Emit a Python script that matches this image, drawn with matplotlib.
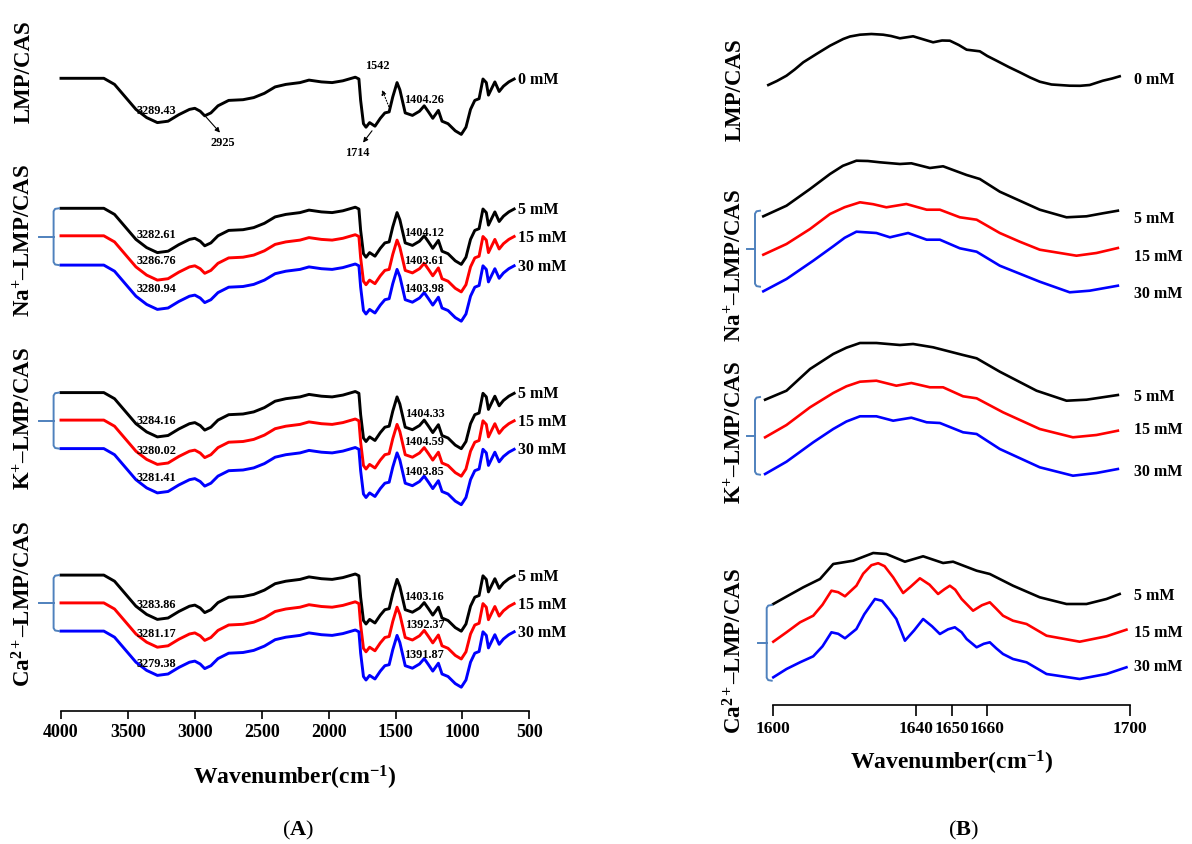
import matplotlib
matplotlib.use("Agg")
import matplotlib.pyplot as plt
from matplotlib.lines import Line2D

plt.rcParams.update({
    "font.family": "Liberation Serif",
    "mathtext.fontset": "custom",
    "mathtext.rm": "Liberation Serif",
    "mathtext.bf": "Liberation Serif:bold",
    "mathtext.it": "Liberation Serif:italic",
    "mathtext.default": "bf",
})

W, H = 1192, 845
BRACE_COLOR = "#4f81bd"

# ---------------- (A) full-range FTIR spectra, 4000-600 cm-1 ----------------
wn_a = [4000, 3680, 3600, 3520, 3440, 3360, 3280, 3200, 3120, 3040, 3000, 2960,
        2926, 2880, 2827, 2747, 2640, 2560, 2480, 2400, 2320, 2214, 2147, 2054,
        1974, 1894, 1801, 1774, 1761, 1740, 1721, 1694, 1654, 1614, 1580, 1548,
        1521, 1489, 1468, 1428, 1374, 1321, 1286, 1254, 1222, 1180, 1153, 1108,
        1054, 1009, 974, 940, 908, 876, 847, 822, 806, 780, 758, 726, 694, 654, 614]
trans_a = [0, 0, -6.1, -18.6, -31.1, -39.3, -44.3, -42.9, -36.4, -31.1, -30.0, -32.9,
           -37.5, -34.6, -27.5, -22.1, -21.4, -19.3, -15.0, -8.6, -6.1, -4.3, -1.8, -3.6,
           -4.3, -2.5, 1.1, -0.7, -22.1, -45.4, -48.9, -44.3, -47.9, -40.0, -34.6, -33.6,
           -18.6, -4.3, -11.4, -34.6, -37.1, -32.9, -27.5, -33.6, -40.0, -32.1, -42.9, -45.4,
           -52.5, -56.1, -48.9, -31.1, -22.1, -20.4, -0.7, -4.3, -16.8, -9.6, -3.6, -13.2,
           -7.9, -3.6, -0.7]

conc_a = ["0 mM", "5 mM", "15 mM", "30 mM", "5 mM", "15 mM", "30 mM",
          "5 mM", "15 mM", "30 mM"]
colors_a = ["black", "black", "red", "blue", "black", "red", "blue",
            "black", "red", "blue"]
oh_peak_a = ["3289.43", "3282.61", "3286.76", "3280.94", "3284.16", "3280.02",
             "3281.41", "3283.86", "3281.17", "3279.38"]
coo_peak_a = ["1404.26", "1404.12", "1403.61", "1403.98", "1404.33", "1404.59",
              "1403.85", "1403.16", "1392.37", "1391.87"]

# vertical stacking of the traces and of their peak labels (axis units)
offsets_a = [632.7, 502.7, 475.2, 445.9, 318.4, 290.9, 262.4, 135.9, 108.1, 79.9]
oh_label_dy = [-32, -25.7, -24.3, -22.5, -27.5, -29.6, -28.6, -28.5, -30.4, -31.5]
coo_label_dy = [-20.3, -23.9, -23.9, -23.2, -20.3, -21.4, -22.5, -21.4, -21.1, -22.5]

# ---------------- (B) amide I region, 1600-1700 cm-1 ----------------
conc_b = ["0 mM", "5 mM", "15 mM", "30 mM", "5 mM", "15 mM", "30 mM",
          "5 mM", "15 mM", "30 mM"]
colors_b = colors_a

wn_b0 = [1598.6, 1601.0, 1603.7, 1606.0, 1608.4, 1612.1, 1615.9, 1619.6, 1621.5, 1624.3,
         1627.5, 1630.8, 1633.0, 1635.5, 1639.2, 1644.8, 1647.3, 1649.5, 1652.0, 1654.2,
         1657.9, 1660.0, 1662.6, 1666.0, 1669.1, 1672.0, 1674.7, 1678.0, 1683.1, 1686.0,
         1688.7, 1692.4, 1695.0, 1697.1]
val_b0 = [0, 4, 9.3, 15.5, 22.7, 31, 39.3, 46, 48.5, 50.3, 51, 50.3, 49, 46.7, 48.7, 42.7,
          44.5, 44.3, 40, 35.3, 33.7, 29, 24.3, 18, 12.7, 7.5, 3.3, 0.5, -0.7, -0.8, 0, 4.3,
          6.5, 8.7]

wn_na5 = [1597.2, 1603.7, 1610.3, 1615.9, 1619.5, 1623.3, 1626.5, 1629.9, 1635.5, 1638.7,
          1643.9, 1647.6, 1654.2, 1657.9, 1663.5, 1669.1, 1674.7, 1682.2, 1687.8, 1692.4,
          1696.6]
val_na5 = [0, 10.6, 27.3, 42.3, 50.5, 55.6, 55.3, 54, 52.3, 53, 48.3, 50, 41.3, 37.3, 24.6,
           15.6, 6.6, -1, 0, 3, 5.6]
wn_na15 = [1597.2, 1603.7, 1610.3, 1615.9, 1620.0, 1624.3, 1628.0, 1631.7, 1637.3, 1643.0,
           1646.7, 1652.3, 1657.0, 1663.5, 1669.1, 1674.7, 1685.0, 1690.6, 1696.6]
val_na15 = [0, 10.7, 25.7, 40.7, 47.5, 52.4, 50.5, 47.4, 50.7, 45, 45, 37.4, 35, 21.7, 13,
            5, -1, 1.7, 6.7]
wn_na30 = [1597.2, 1603.7, 1611.2, 1616.8, 1620.0, 1623.3, 1628.9, 1632.7, 1637.8, 1643.0,
           1646.7, 1652.3, 1657.0, 1663.5, 1674.7, 1683.1, 1688.7, 1696.6]
val_na30 = [0, 12.3, 30.6, 45, 53.5, 59.6, 58.3, 54, 58.3, 51.6, 51.6, 43, 39.6, 25.6, 9.6,
            -1, 0.6, 5.6]

wn_k5 = [1597.7, 1603.7, 1610.3, 1616.8, 1620.5, 1624.3, 1628.9, 1635.5, 1639.2, 1644.8,
         1653.2, 1657.0, 1663.5, 1673.8, 1682.2, 1687.8, 1696.6]
val_k5 = [0, 9, 30.7, 45.7, 52, 56.7, 56.7, 54.7, 55.7, 52.4, 44.7, 41.4, 28, 9, -1, 0, 4.7]
wn_k15 = [1597.7, 1603.7, 1610.3, 1616.8, 1620.5, 1624.3, 1628.9, 1634.5, 1638.7, 1643.9,
          1647.6, 1653.2, 1657.0, 1664.4, 1674.7, 1684.0, 1690.6, 1696.6]
val_k15 = [0, 12.3, 30, 44.3, 51, 55.6, 56.6, 51.6, 54.3, 50, 50, 41, 39, 25, 8.3, 0, 2.3,
           6.6]
wn_k30 = [1597.7, 1603.7, 1611.2, 1616.8, 1620.5, 1624.3, 1628.9, 1633.6, 1638.7, 1643.0,
          1646.7, 1653.2, 1657.0, 1663.5, 1674.7, 1684.0, 1690.6, 1696.6]
val_k30 = [0, 12.3, 31.7, 45, 52.5, 57.7, 57.7, 53.3, 56.3, 51.7, 51, 41.7, 40, 25, 6.7,
           -1.7, 1, 5]

wn_ca5 = [1600.0, 1604.0, 1608.4, 1613.1, 1616.8, 1622.4, 1628.0, 1631.7, 1636.9, 1642.0,
          1647.6, 1650.4, 1657.0, 1660.7, 1667.2, 1674.7, 1682.2, 1687.8, 1693.4, 1697.1]
val_ca5 = [0, 8, 16.7, 25, 40, 43.3, 51, 50, 42.3, 47.7, 41, 42.3, 33.3, 30, 18.3, 6.7, 0, 0,
           5, 10]
wn_ca15 = [1600.0, 1603.7, 1607.5, 1611.2, 1613.8, 1616.3, 1618.2, 1620.1, 1623.3, 1625.2,
           1627.5, 1629.4, 1631.2, 1633.6, 1636.4, 1638.5, 1641.1, 1643.8, 1646.2, 1648.0,
           1649.5, 1651.0, 1652.8, 1656.0, 1658.5, 1660.7, 1662.5, 1664.4, 1667.2, 1671.0,
           1676.6, 1685.9, 1693.4, 1699.0]
val_ca15 = [0, 9.4, 19.4, 26, 37, 51, 49.5, 45.4, 56, 68, 76.5, 78.5, 75.5, 64.4, 48.7, 55,
            63.4, 57, 47.7, 52.5, 56, 52, 42.7, 31, 36.5, 39.4, 33, 26, 21, 17.7, 6, 0, 5.4, 12]
wn_ca30 = [1600.0, 1603.7, 1607.5, 1611.2, 1613.8, 1616.3, 1618.2, 1620.1, 1623.3, 1625.5,
           1628.5, 1630.5, 1632.5, 1634.5, 1636.9, 1639.5, 1642.0, 1644.5, 1646.7, 1649.0,
           1650.9, 1652.8, 1654.2, 1657.0, 1659.0, 1660.7, 1662.5, 1664.4, 1667.2, 1671.0,
           1676.6, 1685.9, 1693.4, 1699.0]
val_ca30 = [0, 8.3, 15, 21, 31, 45, 43.5, 39, 48.3, 63, 78.3, 76.5, 68, 58.3, 36.6, 47, 58.3,
            51, 43.3, 48, 50, 45, 38.3, 30, 33.5, 35, 29, 23.3, 18.3, 15, 3.3, -1.7, 3.3, 10]

spectra_b = [(wn_b0, val_b0), (wn_na5, val_na5), (wn_na15, val_na15), (wn_na30, val_na30),
             (wn_k5, val_k5), (wn_k15, val_k15), (wn_k30, val_k30),
             (wn_ca5, val_ca5), (wn_ca15, val_ca15), (wn_ca30, val_ca30)]
offsets_b = [620.0, 488.7, 450.3, 413.7, 305.3, 267.7, 231.0, 101.0, 63.3, 27.7]
label_dy_b = [-3, -7, -8, -7, -1, 2, -2, -1, -2, 1]

group_names = ["LMP/CAS", "Na$^{+}$–LMP/CAS", "K$^{+}$–LMP/CAS", "Ca$^{2+}$–LMP/CAS"]


def fx(px):
    return px / W


def fy(py):
    return 1 - py / H


fig = plt.figure(figsize=(W / 100, H / 100), dpi=100)


def style_axis(ax, fontsize, ticklen):
    for side in ("left", "right", "top"):
        ax.spines[side].set_visible(False)
    ax.spines["bottom"].set_linewidth(1.2)
    ax.set_yticks([])
    ax.tick_params(axis="x", direction="out", length=ticklen, width=1.2,
                   labelsize=fontsize, pad=3)
    for lbl in ax.get_xticklabels():
        lbl.set_fontweight("bold")


def brace(x, top, bot, arm, tick):
    mid = (top + bot) / 2
    xs = [x + arm, x + 1.5, x, x, x + 1.5, x + arm]
    ys = [top, top + 0.6, top + 3, bot - 3, bot - 0.6, bot]
    fig.add_artist(Line2D([fx(v) for v in xs], [fy(v) for v in ys],
                          color=BRACE_COLOR, lw=1.4))
    fig.add_artist(Line2D([fx(x - tick), fx(x)], [fy(mid), fy(mid)],
                          color=BRACE_COLOR, lw=1.4))


# ---- panel A ----
axA = fig.add_axes([fx(61), fy(712), fx(529.4) - fx(61), fy(20) - fy(712)])
axA.set_xlim(4000, 500)
axA.set_ylim(0, 692)
axA.set_xticks([4000, 3500, 3000, 2500, 2000, 1500, 1000, 500])
style_axis(axA, 13, 6)

for i, (off, col) in enumerate(zip(offsets_a, colors_a)):
    axA.plot(wn_a, [off + v for v in trans_a], color=col, lw=2.1,
             solid_joinstyle="round", clip_on=False)
    axA.text(585, off + trans_a[-1], conc_a[i], ha="left", va="center",
             fontsize=11.5, fontweight="bold", clip_on=False)
    axA.text(3287, off + oh_label_dy[i], oh_peak_a[i], ha="center", va="center",
             fontsize=8.8, fontweight="bold")
    axA.text(1285, off + coo_label_dy[i], coo_peak_a[i], ha="center", va="center",
             fontsize=8.8, fontweight="bold")

top0 = offsets_a[0]
arrow_kw = dict(arrowstyle="-|>", color="black", lw=0.8, mutation_scale=7,
                shrinkA=0, shrinkB=0)
axA.annotate("", xy=(2812, top0 - 54.3), xytext=(2924, top0 - 37.5), arrowprops=arrow_kw)
axA.text(2793, top0 - 63.2, "2925", ha="center", va="center", fontsize=8.8, fontweight="bold")
axA.annotate("", xy=(1743, top0 - 64.3), xytext=(1676, top0 - 52.5), arrowprops=arrow_kw)
axA.text(1784, top0 - 73.9, "1714", ha="center", va="center", fontsize=8.8, fontweight="bold")
axA.annotate("", xy=(1601, top0 - 11.4), xytext=(1542, top0 - 31.1),
             arrowprops=dict(arrow_kw, linestyle=":"))
axA.text(1636, top0 + 13.6, "1542", ha="center", va="center", fontsize=8.8, fontweight="bold")

fig.text(fx(295), fy(778), "Wavenumber(cm$^{-1}$)", ha="center", va="center",
         fontsize=17, fontweight="bold")
fig.text(fx(298), fy(830), "($\\mathbf{A}$)", ha="center", va="center", fontsize=16,
         fontweight="normal")

for name, cy in zip(group_names, [72, 240, 418, 604]):
    fig.text(fx(24), fy(cy), name, rotation=90, ha="center", va="center",
             fontsize=16.5, fontweight="bold")
for top, bot in [(209.3, 266.1), (393.6, 449.6), (576.1, 632.1)]:
    brace(53.6, top, bot, 5.4, 14.5)

# ---- panel B ----
axB = fig.add_axes([fx(773.3), fy(706), fx(1130) - fx(773.3), fy(20) - fy(706)])
axB.set_xlim(1600, 1700)
axB.set_ylim(0, 686)
axB.set_xticks([1600, 1640, 1650, 1660, 1700])
style_axis(axB, 12.5, 8)

for i, ((wn, vals), off, col) in enumerate(zip(spectra_b, offsets_b, colors_b)):
    axB.plot(wn, [off + v for v in vals], color=col, lw=1.9,
             solid_joinstyle="round", clip_on=False)
    axB.text(1701, off + vals[-1] + label_dy_b[i], conc_b[i], ha="left", va="center",
             fontsize=11.5, fontweight="bold", clip_on=False)

fig.text(fx(952), fy(763), "Wavenumber(cm$^{-1}$)", ha="center", va="center",
         fontsize=17, fontweight="bold")
fig.text(fx(963), fy(830), "($\\mathbf{B}$)", ha="center", va="center", fontsize=16,
         fontweight="normal")

for name, cy in zip(group_names, [90, 265, 432, 651]):
    fig.text(fx(735), fy(cy), name, rotation=90, ha="center", va="center",
             fontsize=16.5, fontweight="bold")
for x, top, bot in [(755, 211.7, 287.7), (755, 398, 475.7), (766.7, 606, 681.7)]:
    brace(x, top, bot, 5, 8.5)

fig.savefig("out.png", dpi=100)
